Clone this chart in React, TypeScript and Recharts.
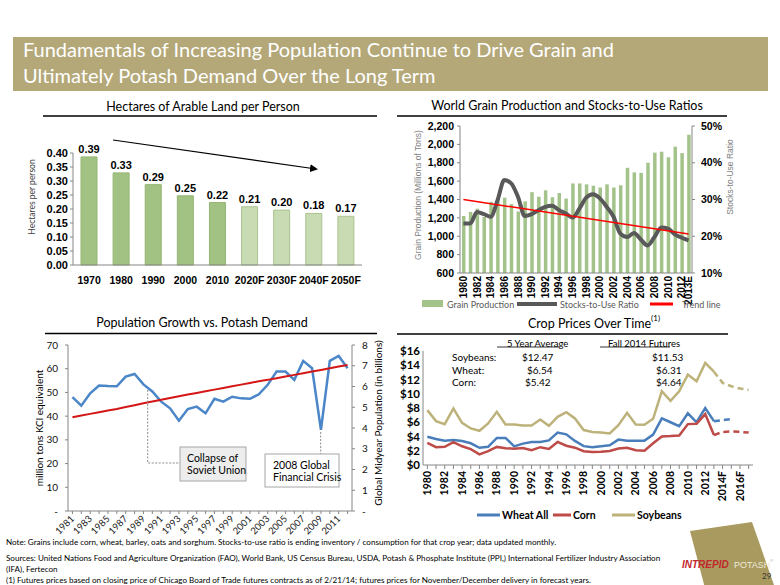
import React from "react";
import { ComposedChart, Bar, Line, XAxis, YAxis, Cell, LabelList } from "recharts";

const SANS = "Lato, 'Open Sans', sans-serif";
const ARIAL = "'Liberation Sans', Arial, sans-serif";
const AXIS = "#868686";

// Hectares of arable land per person
const landYears = ["1970", "1980", "1990", "2000", "2010", "2020F", "2030F", "2040F", "2050F"];
const landValues = [0.386, 0.329, 0.287, 0.247, 0.223, 0.208, 0.196, 0.184, 0.174];
const landForecast = [false, false, false, false, false, true, true, true, true];

// World grain production (mln tons) and stocks-to-use ratio (%)
const grainYears = [
  "1980", "1981", "1982", "1983", "1984", "1985", "1986", "1987", "1988", "1989",
  "1990", "1991", "1992", "1993", "1994", "1995", "1996", "1997", "1998", "1999",
  "2000", "2001", "2002", "2003", "2004", "2005", "2006", "2007", "2008", "2009",
  "2010", "2011", "2012", "2013E",
];
const grainProduction = [
  1220, 1265, 1300, 1210, 1375, 1400, 1420, 1350, 1270, 1380,
  1480, 1430, 1500, 1425, 1470, 1410, 1575, 1575, 1565, 1550,
  1530, 1565, 1530, 1555, 1745, 1695, 1690, 1800, 1910, 1920,
  1860, 1975, 1905, 2105,
];
const stocksToUse = [
  23.5, 23.5, 26.6, 26.0, 25.3, 29.8, 35.3, 34.4, 30.7, 25.5,
  26.0, 27.1, 28.0, 28.3, 27.1, 26.2, 25.1, 27.5, 30.5, 31.4,
  30.3, 28.0, 25.3, 20.7, 19.8, 20.9, 19.1, 17.5, 19.8, 22.4,
  22.1, 20.5, 19.6, 18.9,
];
const trendStart = 30.0;
const trendEnd = 20.6;

// Potash demand (mln tons KCl) vs world population (billions)
const popYears = [
  1981, 1982, 1983, 1984, 1985, 1986, 1987, 1988, 1989, 1990,
  1991, 1992, 1993, 1994, 1995, 1996, 1997, 1998, 1999, 2000,
  2001, 2002, 2003, 2004, 2005, 2006, 2007, 2008, 2009, 2010,
  2011, 2012,
];
const potashDemand = [
  48.0, 44.4, 49.6, 52.9, 52.7, 52.6, 56.7, 57.8, 53.4, 50.4,
  46.1, 43.3, 38.1, 43.0, 44.0, 41.2, 47.3, 46.1, 48.2, 47.5,
  47.3, 49.2, 53.2, 58.8, 58.8, 55.3, 63.3, 60.2, 34.2, 63.3,
  65.4, 60.2,
];
const worldPopulation = [
  4.52, 4.60, 4.68, 4.76, 4.84, 4.92, 5.01, 5.10, 5.19, 5.28,
  5.36, 5.45, 5.53, 5.61, 5.69, 5.77, 5.85, 5.93, 6.01, 6.09,
  6.17, 6.25, 6.32, 6.40, 6.48, 6.56, 6.64, 6.72, 6.80, 6.88,
  6.96, 7.04,
];

// Crop prices ($/bu)
const cropYears = [
  "1980", "1981", "1982", "1983", "1984", "1985", "1986", "1987", "1988", "1989",
  "1990", "1991", "1992", "1993", "1994", "1995", "1996", "1997", "1998", "1999",
  "2000", "2001", "2002", "2003", "2004", "2005", "2006", "2007", "2008", "2009",
  "2010", "2011", "2012", "2013", "2014F", "2015F", "2016F", "2017F",
];
const wheatPrice = [
  3.96, 3.65, 3.42, 3.50, 3.36, 3.05, 2.42, 2.56, 3.80, 3.80,
  2.62, 3.00, 3.24, 3.24, 3.45, 4.55, 4.30, 3.38, 2.65, 2.48,
  2.62, 2.78, 3.56, 3.40, 3.40, 3.42, 4.26, 6.55, 6.00, 5.45,
  7.25, 6.00, 8.00, 6.15,
];
const cornPrice = [
  3.11, 2.50, 2.55, 3.21, 2.63, 2.23, 1.50, 1.94, 2.54, 2.36,
  2.28, 2.37, 2.07, 2.50, 2.26, 3.24, 2.71, 2.43, 1.94, 1.82,
  1.85, 1.97, 2.32, 2.42, 2.06, 2.00, 3.04, 4.00, 4.06, 4.15,
  5.74, 5.80, 7.14, 4.20,
];
const soyPrice = [
  7.70, 6.16, 5.74, 7.93, 5.92, 5.13, 4.80, 5.83, 7.46, 5.69,
  5.69, 5.55, 5.55, 6.39, 5.50, 6.76, 7.42, 6.53, 4.90, 4.62,
  4.57, 4.43, 5.60, 7.32, 5.69, 5.64, 6.48, 10.35, 9.00, 10.35,
  12.69, 11.75, 14.32, 13.10,
];
// futures, starting from the 2013 value
const wheatFutures = [6.15, 6.31, 6.45];
const cornFutures = [4.20, 4.64, 4.70, 4.65, 4.55];
const soyFutures = [13.10, 11.53, 11.05, 10.73, 10.55];
const futuresStart = 33;

const landData = landYears.map((year, i) => ({ year, ha: landValues[i], forecast: landForecast[i] }));

const grainData = grainYears.map((year, i) => ({
  year,
  prod: grainProduction[i],
  stu: stocksToUse[i],
  trend: i === 0 ? trendStart : i === grainYears.length - 1 ? trendEnd : null,
}));

const popData = popYears.map((year, i) => ({ year, potash: potashDemand[i], pop: worldPopulation[i] }));

const cropData = cropYears.map((year, i) => {
  const f = i - futuresStart;
  return {
    year,
    wheat: i < wheatPrice.length ? wheatPrice[i] : null,
    corn: i < cornPrice.length ? cornPrice[i] : null,
    soy: i < soyPrice.length ? soyPrice[i] : null,
    wheatF: f >= 0 && f < wheatFutures.length ? wheatFutures[f] : null,
    cornF: f >= 0 && f < cornFutures.length ? cornFutures[f] : null,
    soyF: f >= 0 && f < soyFutures.length ? soyFutures[f] : null,
  };
});

const VerticalTick = (size: number, family: string, show: (v: string) => boolean) => (props: any) => {
  const { x, y, payload } = props;
  const v = String(payload.value);
  if (!show(v)) return <g />;
  return (
    <text
      x={x}
      y={y}
      transform={`rotate(-90, ${x}, ${y})`}
      textAnchor="end"
      dy="0.35em"
      fontSize={size}
      fontWeight={700}
      fontFamily={family}
      fill="#000"
    >
      {v}
    </text>
  );
};

const grainTick = VerticalTick(10, ARIAL, (v) => v.endsWith("E") || Number(v) % 2 === 0);
const cropTick = VerticalTick(10.5, SANS, (v) => parseInt(v, 10) % 2 === 0);

const popTick = (props: any) => {
  const { x, y, payload } = props;
  if (payload.value % 2 === 0) return <g />;
  return (
    <text
      x={x}
      y={y + 2}
      transform={`rotate(-45, ${x}, ${y + 2})`}
      textAnchor="end"
      dy="0.35em"
      fontSize={9.5}
      fontFamily={SANS}
      fill="#222"
    >
      {payload.value}
    </text>
  );
};

function LandChart() {
  return (
    <div style={{ position: "absolute", left: 0, top: 130 }}>
      <ComposedChart width={390} height={170} data={landData} margin={{ top: 23, right: 28, left: 30, bottom: 5 }}>
        <XAxis dataKey="year" scale="band" interval={0} height={30} tickLine={false} tickMargin={6} axisLine={{ stroke: AXIS }}
          tick={{ fontSize: 10.5, fontWeight: 700, fill: "#000", fontFamily: ARIAL }} />
        <YAxis width={43} domain={[0, 0.4]} ticks={[0, 0.05, 0.1, 0.15, 0.2, 0.25, 0.3, 0.35, 0.4]} interval={0}
          tickSize={3} tickMargin={2}
          tickFormatter={(v: number) => v.toFixed(2)} axisLine={{ stroke: AXIS }} tickLine={{ stroke: AXIS }}
          tick={{ fontSize: 11, fontWeight: 700, fill: "#000", fontFamily: ARIAL }} />
        <Bar dataKey="ha" barSize={16} isAnimationActive={false}>
          {landData.map((d, i) => (
            <Cell key={i} fill={d.forecast ? "#C8DBB2" : "#A2C283"} stroke={d.forecast ? "#A9C38E" : "#93B572"} />
          ))}
          <LabelList dataKey="ha" position="top" offset={4} formatter={(v: any) => Number(v).toFixed(2)}
            style={{ fontSize: 11, fontWeight: 700, fill: "#000", fontFamily: ARIAL }} />
        </Bar>
      </ComposedChart>
    </div>
  );
}

function GrainChart() {
  return (
    <div style={{ position: "absolute", left: 390, top: 110 }}>
      <ComposedChart width={390} height={200} data={grainData} margin={{ top: 16, right: 48, left: 22, bottom: 5 }}>
        <XAxis dataKey="year" scale="band" interval={0} height={32} tickLine={false} tickSize={0} tickMargin={3}
          axisLine={{ stroke: AXIS }} tick={grainTick} />
        <YAxis yAxisId="l" width={48} domain={[600, 2200]} ticks={[600, 800, 1000, 1200, 1400, 1600, 1800, 2000, 2200]}
          interval={0} tickFormatter={(v: number) => v.toLocaleString("en-US")} tickSize={3} tickMargin={3}
          axisLine={{ stroke: AXIS }} tickLine={{ stroke: AXIS }}
          tick={{ fontSize: 10.5, fontWeight: 700, fill: "#000", fontFamily: ARIAL }} />
        <YAxis yAxisId="r" orientation="right" width={40} domain={[10, 50]} ticks={[10, 20, 30, 40, 50]} interval={0}
          tickFormatter={(v: number) => v + "%"} tickSize={3} tickMargin={6}
          axisLine={{ stroke: AXIS }} tickLine={{ stroke: AXIS }}
          tick={{ fontSize: 10.5, fontWeight: 700, fill: "#000", fontFamily: ARIAL }} />
        <Bar yAxisId="l" dataKey="prod" fill="#A3C38A" barSize={3.5} isAnimationActive={false} />
        <Line yAxisId="r" dataKey="stu" type="monotone" stroke="#595959" strokeWidth={4} dot={false} isAnimationActive={false} />
        <Line yAxisId="r" dataKey="trend" type="linear" connectNulls stroke="#FF0000" strokeWidth={1.5} dot={false} isAnimationActive={false} />
      </ComposedChart>
    </div>
  );
}

function PopulationChart() {
  return (
    <div style={{ position: "absolute", left: 0, top: 335 }}>
      <ComposedChart width={390} height={210} data={popData} margin={{ top: 10, right: 8, left: 20, bottom: 0 }}>
        <XAxis dataKey="year" scale="band" interval={0} height={34} tickSize={3} tickMargin={1}
          axisLine={{ stroke: AXIS }} tickLine={{ stroke: AXIS }} tick={popTick} />
        <YAxis yAxisId="l" width={48} domain={[0, 70]} ticks={[0, 10, 20, 30, 40, 50, 60, 70]} interval={0}
          tickFormatter={(v: number) => (v === 0 ? "-" : String(v))} tickSize={3} tickMargin={7}
          axisLine={{ stroke: AXIS }} tickLine={{ stroke: AXIS }}
          tick={{ fontSize: 10, fill: "#111", fontFamily: SANS }} />
        <YAxis yAxisId="r" orientation="right" width={30} domain={[0, 8]} ticks={[0, 1, 2, 3, 4, 5, 6, 7, 8]} interval={0}
          tickFormatter={(v: number) => (v === 0 ? "-" : String(v))} tickSize={3} tickMargin={7}
          axisLine={{ stroke: AXIS }} tickLine={{ stroke: AXIS }}
          tick={{ fontSize: 10, fill: "#111", fontFamily: SANS }} />
        <Line yAxisId="l" dataKey="potash" type="linear" stroke="#4A86C8" strokeWidth={2.5} dot={false} isAnimationActive={false} />
        <Line yAxisId="r" dataKey="pop" type="linear" stroke="#D41616" strokeWidth={2} dot={false} isAnimationActive={false} />
      </ComposedChart>
    </div>
  );
}

function CropChart() {
  const line = { dot: false as const, isAnimationActive: false, strokeWidth: 2.5, type: "linear" as const };
  return (
    <div style={{ position: "absolute", left: 390, top: 340 }}>
      <ComposedChart width={390} height={170} data={cropData} margin={{ top: 11, right: 27, left: 0, bottom: 5 }}>
        <XAxis dataKey="year" scale="band" interval={0} height={40} tickSize={4} tickMargin={2}
          axisLine={{ stroke: AXIS }} tickLine={{ stroke: AXIS }} tick={cropTick} />
        <YAxis width={33} domain={[0, 16]} ticks={[0, 2, 4, 6, 8, 10, 12, 14, 16]} interval={0}
          tickFormatter={(v: number) => "$" + v}
          tickSize={0} tickMargin={3} axisLine={{ stroke: AXIS }} tickLine={false}
          tick={{ fontSize: 11.5, fontWeight: 700, fill: "#000", fontFamily: SANS }} />
        <Line dataKey="soy" stroke="#BDB27A" {...line} />
        <Line dataKey="wheat" stroke="#4A7EBB" {...line} />
        <Line dataKey="corn" stroke="#BE4B48" {...line} />
        <Line dataKey="soyF" stroke="#BDB27A" strokeDasharray="6 4" {...line} />
        <Line dataKey="wheatF" stroke="#4A7EBB" strokeDasharray="6 4" {...line} />
        <Line dataKey="cornF" stroke="#BE4B48" strokeDasharray="6 4" {...line} />
      </ComposedChart>
    </div>
  );
}

function Logo() {
  return (
    <svg width={100} height={70} viewBox="680 520 100 70" style={{ position: "absolute", left: 680, top: 520 }}>
      <path d="M690 531 L752 522 L774 585 L706 592 Z" fill="#A99B5F" stroke="none" />
      <text x={682} y={568} fontSize={10} fontWeight={900} fontStyle="italic" fontFamily={ARIAL} fill="#C1272D">INTREPID</text>
      <text x={734} y={568} fontSize={9} fontFamily={ARIAL} fill="#EEEADB">POTASH</text>
      <text x={770} y={562} fontSize={4} fontFamily={ARIAL} fill="#999">®</text>
      <text x={762} y={579} fontSize={8} fontFamily={SANS} fill="#333">29</text>
    </svg>
  );
}

function Overlay() {
  const t = { fontFamily: SANS, fill: "#000" };
  return (
    <svg width={780} height={585} style={{ position: "absolute", left: 0, top: 0, pointerEvents: "none" }}>
      <defs>
        <marker id="arr" markerWidth="8" markerHeight="8" refX="6" refY="4" orient="auto" markerUnits="userSpaceOnUse">
          <path d="M0,0 L8,4 L0,8 z" fill="#000" />
        </marker>
      </defs>

      {/* banner */}
      <rect x={13} y={37} width={755} height={54} fill="#B4A879" />
      <text x={23} y={49} fontSize={20} fill="#fff" fontFamily={SANS} dominantBaseline="central">
        Fundamentals of Increasing Population Continue to Drive Grain and
      </text>
      <text x={23} y={75} fontSize={20} fill="#fff" fontFamily={SANS} dominantBaseline="central">
        Ultimately Potash Demand Over the Long Term
      </text>

      {/* section titles */}
      <text x={203} y={106} fontSize={12.5} textAnchor="middle" dominantBaseline="central" {...t}>Hectares of Arable Land per Person</text>
      <line x1={43} y1={116} x2={377} y2={116} stroke="#000" strokeWidth={1.3} />
      <text x={567} y={105} fontSize={12.5} textAnchor="middle" dominantBaseline="central" {...t}>World Grain Production and Stocks-to-Use Ratios</text>
      <line x1={397} y1={116} x2={727} y2={116} stroke="#000" strokeWidth={1.3} />
      <text x={202} y={322.5} fontSize={12.5} textAnchor="middle" dominantBaseline="central" {...t}>Population Growth vs. Potash Demand</text>
      <line x1={45} y1={333.5} x2={377} y2={333.5} stroke="#000" strokeWidth={1.3} />
      <text x={528} y={323} fontSize={12.5} dominantBaseline="central" {...t}>
        Crop Prices Over Time<tspan fontSize={8} dy={-5}>(1)</tspan>
      </text>
      <line x1={397} y1={334} x2={728} y2={334} stroke="#000" strokeWidth={1.3} />

      {/* land chart */}
      <line x1={113} y1={140} x2={316} y2={169} stroke="#000" strokeWidth={1.2} markerEnd="url(#arr)" />
      <text transform="translate(32,197) rotate(-90)" fontSize={8.5} textAnchor="middle" dominantBaseline="central" fontFamily={SANS} fill="#404040">
        Hectares per person
      </text>

      {/* grain chart */}
      <text transform="translate(418,195) rotate(-90)" fontSize={8.5} textAnchor="middle" dominantBaseline="central" fontFamily={ARIAL} fill="#7F7F7F">
        Grain Production (Millions of Tons)
      </text>
      <text transform="translate(730,177) rotate(-90)" fontSize={8.5} textAnchor="middle" dominantBaseline="central" fontFamily={ARIAL} fill="#7F7F7F">
        Stocks-to-Use Ratio
      </text>
      <rect x={422} y={300} width={21} height={7} fill="#A3C38A" />
      <text x={447} y={304} fontSize={9} dominantBaseline="central" fontFamily={SANS} fill="#595959">Grain Production</text>
      <line x1={517} y1={304} x2={557} y2={304} stroke="#595959" strokeWidth={4} />
      <text x={560} y={304} fontSize={9} dominantBaseline="central" fontFamily={SANS} fill="#595959">Stocks-to-Use Ratio</text>
      <line x1={650} y1={304} x2={673} y2={304} stroke="#FF0000" strokeWidth={3} />
      <text x={682} y={304} fontSize={9} dominantBaseline="central" fontFamily={SANS} fill="#595959">Trend line</text>

      {/* population chart */}
      <text transform="translate(39,428) rotate(-90)" fontSize={10} textAnchor="middle" dominantBaseline="central" {...t}>
        million tons KCl equivalent
      </text>
      <text transform="translate(378,423) rotate(-90)" fontSize={10} textAnchor="middle" dominantBaseline="central" {...t}>
        Global Midyear Population (in billions)
      </text>
      <polyline points="147.7,390 147.7,463 180,463" fill="none" stroke="#8C8C8C" strokeWidth={1} strokeDasharray="2 1.5" />
      <rect x={180} y={447} width={66} height={34} fill="#EDEDED" stroke="#A6A6A6" />
      <text x={187} y={458} fontSize={10.5} dominantBaseline="central" {...t}>Collapse of</text>
      <text x={187} y={470} fontSize={10.5} dominantBaseline="central" {...t}>Soviet Union</text>
      <line x1={320.7} y1={432} x2={320.7} y2={454} stroke="#8C8C8C" strokeWidth={1} strokeDasharray="2 1.5" />
      <rect x={265} y={454} width={74} height={33} fill="#fff" stroke="#A6A6A6" />
      <text x={273} y={465} fontSize={10.5} dominantBaseline="central" {...t}>2008 Global</text>
      <text x={273} y={477} fontSize={10.5} dominantBaseline="central" {...t}>Financial Crisis</text>

      {/* crop chart */}
      <text x={507} y={343} fontSize={9.5} dominantBaseline="central" {...t}>5 Year Average</text>
      <line x1={497} y1={347} x2={559} y2={347} stroke="#000" strokeWidth={0.8} />
      <text x={608} y={343} fontSize={9.5} dominantBaseline="central" {...t}>Fall 2014  Futures</text>
      <line x1={600} y1={347} x2={670} y2={347} stroke="#000" strokeWidth={0.8} />
      <text x={452} y={357} fontSize={10} dominantBaseline="central" {...t}>Soybeans:</text>
      <text x={452} y={369.5} fontSize={10} dominantBaseline="central" {...t}>Wheat:</text>
      <text x={452} y={382.3} fontSize={10} dominantBaseline="central" {...t}>Corn:</text>
      <text x={522} y={357} fontSize={10} dominantBaseline="central" {...t}>$12.47</text>
      <text x={527} y={369.5} fontSize={10} dominantBaseline="central" {...t}>$6.54</text>
      <text x={525} y={382.3} fontSize={10} dominantBaseline="central" {...t}>$5.42</text>
      <text x={652} y={357} fontSize={10} dominantBaseline="central" {...t}>$11.53</text>
      <text x={656} y={369.5} fontSize={10} dominantBaseline="central" {...t}>$6.31</text>
      <text x={656} y={382.3} fontSize={10} dominantBaseline="central" {...t}>$4.64</text>
      <line x1={477} y1={515} x2={500} y2={515} stroke="#4A7EBB" strokeWidth={3} />
      <text x={502} y={515} fontSize={10.5} fontWeight={700} dominantBaseline="central" {...t}>Wheat All</text>
      <line x1={553} y1={515} x2={571} y2={515} stroke="#BE4B48" strokeWidth={3} />
      <text x={573} y={515} fontSize={10.5} fontWeight={700} dominantBaseline="central" {...t}>Corn</text>
      <line x1={612} y1={515} x2={635} y2={515} stroke="#BDB27A" strokeWidth={3} />
      <text x={637} y={515} fontSize={10.5} fontWeight={700} dominantBaseline="central" {...t}>Soybeans</text>

      {/* footnotes */}
      <g fontSize={8.1} fontFamily={SANS} fill="#000">
        <text x={6} y={545}>Note: Grains include corn, wheat, barley, oats and sorghum. Stocks-to-use ratio is ending inventory / consumption for that crop year; data updated monthly.</text>
        <text x={6} y={561}>Sources: United Nations Food and Agriculture Organization (FAO), World Bank, US Census Bureau, USDA, Potash &amp; Phosphate Institute (PPI,) International Fertilizer Industry Association</text>
        <text x={6} y={572}>(IFA), Fertecon</text>
        <text x={6} y={583}>(1) Futures prices based on closing price of Chicago Board of Trade futures contracts as of 2/21/14; futures prices for November/December delivery in forecast years.</text>
      </g>
    </svg>
  );
}

export default function App() {
  return (
    <div style={{ position: "absolute", left: 0, top: 0, width: 780, height: 585, background: "#fff", fontFamily: SANS, overflow: "hidden" }}>
      <LandChart />
      <GrainChart />
      <PopulationChart />
      <CropChart />
      <Overlay />
      <Logo />
    </div>
  );
}
